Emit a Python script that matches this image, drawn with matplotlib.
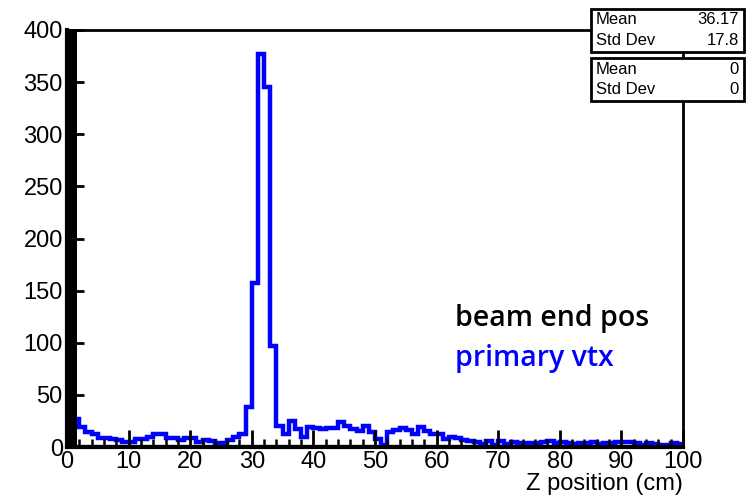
import numpy as np
import matplotlib.pyplot as plt
from matplotlib.ticker import MultipleLocator
from matplotlib.patches import Rectangle

# histogram of primary vertex z (1 cm bins, 0-100 cm)
bin_edges = np.arange(0, 101, 1)
primary_vtx = [32, 27, 19, 14, 12, 9, 9, 8, 7, 5,
               5, 8, 8, 10, 12, 12, 9, 9, 7, 9,
               9, 5, 7, 6, 4, 4, 7, 10, 12, 38,
               157, 377, 345, 97, 20, 12, 25, 17, 10, 19,
               18, 17, 18, 18, 24, 20, 17, 15, 20, 14,
               8, 2, 14, 16, 18, 16, 12, 19, 15, 12,
               12, 8, 10, 9, 7, 6, 5, 3, 6, 2,
               6, 3, 5, 4, 4, 4, 4, 5, 6, 4,
               5, 4, 3, 4, 4, 5, 3, 4, 4, 5,
               5, 5, 4, 2, 4, 3, 2, 2, 4, 3]
beam_end = [0] * 100

stats_labels = ["Mean", "Std Dev"]
stats_primary = ["36.17", "17.8"]
stats_beam = ["0", "0"]

plt.rcParams['font.family'] = ['Liberation Sans', 'DejaVu Sans']

fig = plt.figure(figsize=(7.52, 5.01), dpi=100)
W, H = 752, 501
ax = fig.add_axes([67 / W, 54 / H, (683 - 67) / W, (447 - 30) / H])

ax.stairs(beam_end, bin_edges, color='black', lw=3)
ax.stairs(primary_vtx, bin_edges, color='#0000ff', lw=3.2)

ax.set_xlim(0, 100)
ax.set_ylim(0, 400)

ax.xaxis.set_major_locator(MultipleLocator(10))
ax.xaxis.set_minor_locator(MultipleLocator(2))
ax.yaxis.set_major_locator(MultipleLocator(50))
ax.yaxis.set_minor_locator(MultipleLocator(1))
ax.tick_params(which='major', direction='in', length=12, width=2, labelsize=17,
               top=False, right=False)
ax.tick_params(axis='x', which='minor', direction='in', length=6, width=1.8,
               top=False)
ax.tick_params(axis='y', which='minor', direction='in', length=7, width=1.6,
               right=False)
ax.tick_params(axis='x', which='major', pad=3)
ax.tick_params(axis='y', which='major', pad=3)
for s in ax.spines.values():
    s.set_linewidth(2)
ax.spines['left'].set_linewidth(3)
ax.spines['bottom'].set_linewidth(3)

ax.set_xlabel("Z position (cm)", fontsize=17, loc='right', labelpad=0)

ax.text(0.63, 0.29, "beam end pos", transform=ax.transAxes, fontsize=20.5,
        fontweight='semibold', color='black', family=['Open Sans', 'DejaVu Sans'])
ax.text(0.63, 0.195, "primary vtx", transform=ax.transAxes, fontsize=20.5,
        fontweight='semibold', color='#0000ff', family=['Open Sans', 'DejaVu Sans'])

# stats boxes
def stat_box(top, values):
    x0, x1 = 591, 744
    y0, y1 = top, top + 43
    fig.patches.append(Rectangle((x0 / W, 1 - y1 / H), (x1 - x0) / W, (y1 - y0) / H,
                                 transform=fig.transFigure, facecolor='white',
                                 edgecolor='black', lw=2, zorder=5))
    for i, (lab, val) in enumerate(zip(stats_labels, values)):
        yy = 1 - (y0 + 11 + i * 21) / H
        fig.text((x0 + 5) / W, yy, lab, fontsize=12, va='center', ha='left', zorder=6)
        fig.text((x1 - 5) / W, yy, val, fontsize=12, va='center', ha='right', zorder=6)

stat_box(9, stats_primary)
stat_box(58, stats_beam)

fig.savefig("out.png", dpi=100)
